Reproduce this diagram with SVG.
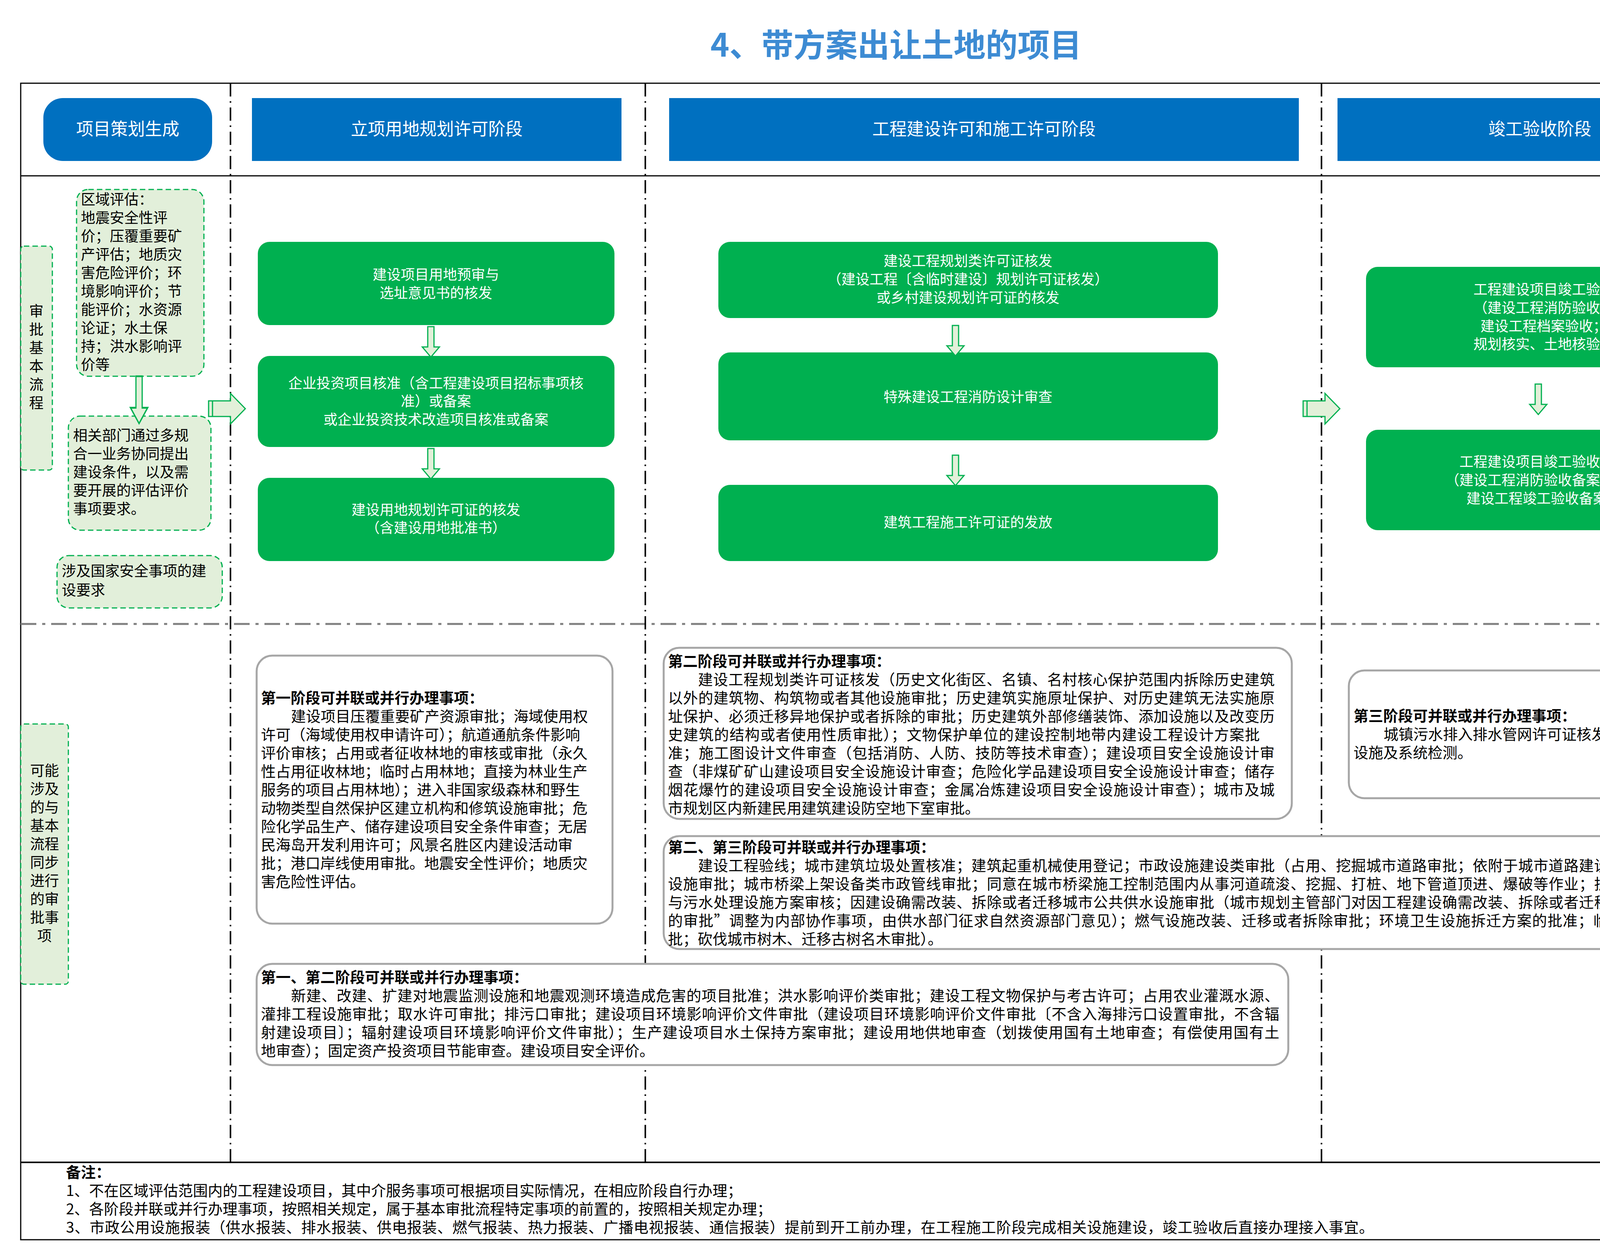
<svg xmlns="http://www.w3.org/2000/svg" width="4577" height="3207" viewBox="0 0 4577 3207">
<style>
text{font-family:"Noto Sans CJK SC","Noto Sans",sans-serif;}
.hd{fill:#0070c0;}
.hdt{fill:#fff;font-size:44px;text-anchor:middle;}
.gb{fill:#00b050;}
.gt{fill:#fff;font-size:36px;text-anchor:middle;}
.lg{fill:#e2efda;stroke:#00b050;stroke-width:3;stroke-dasharray:14 8;}
.lt{fill:#000;font-size:37px;}
.wb{fill:#fff;stroke:#a6a6a6;stroke-width:5;}
.pt{fill:#000;font-size:38px;}
.b{font-weight:bold;}
.vd{stroke:#000;stroke-width:4;stroke-dasharray:34 12 4 12;fill:none;}
.arr{fill:#e2f0d9;stroke:#00b050;stroke-width:3;}
</style>
<defs>
<path id="da" d="M-8,0 h16 v52 h14 l-22,26 l-22,-26 h14 z"/>
<path id="ra" d="M0,-20 h56 v-19 l38,39 l-38,39 v-19 h-56 z M10,-20 v40"/>
</defs>
<rect width="4577" height="3207" fill="#fff"/>
<text x="2294" y="145" font-size="82" font-weight="bold" fill="#3d8bd3" text-anchor="middle">4、带方案出让土地的项目</text>

<g id="frame">
<rect x="53" y="213" width="4469" height="2960" fill="none" stroke="#000" stroke-width="3"/>
<line x1="53" y1="450" x2="4522" y2="450" stroke="#000" stroke-width="3"/>
<line x1="53" y1="2975" x2="4522" y2="2975" stroke="#000" stroke-width="4"/>
<line x1="53" y1="1597" x2="4522" y2="1597" stroke="#7f7f7f" stroke-width="5" stroke-dasharray="40 15 8 15"/>
<line class="vd" x1="590" y1="213" x2="590" y2="2975"/>
<line class="vd" x1="1652" y1="213" x2="1652" y2="2975"/>
<line class="vd" x1="3383" y1="213" x2="3383" y2="2975"/>
</g>

<g id="h1"><rect class="hd" x="111" y="251" width="432" height="161" rx="50"/><text class="hdt" x="327" y="346">项目策划生成</text></g>
<g id="h2"><rect class="hd" x="645" y="251" width="946" height="161"/><text class="hdt" x="1118" y="346">立项用地规划许可阶段</text></g>
<g id="h3"><rect class="hd" x="1713" y="251" width="1612" height="161"/><text class="hdt" x="2519" y="346">工程建设许可和施工许可阶段</text></g>
<g id="h4"><rect class="hd" x="3424" y="251" width="1036" height="161"/><text class="hdt" x="3942" y="346">竣工验收阶段</text></g>

<g id="lab1"><rect class="lg" x="53" y="630" width="81" height="573" rx="8"/>
<text class="lt" x="93" text-anchor="middle"><tspan x="93" y="810">审</tspan><tspan x="93" y="857">批</tspan><tspan x="93" y="904">基</tspan><tspan x="93" y="951">本</tspan><tspan x="93" y="998">流</tspan><tspan x="93" y="1045">程</tspan></text></g>
<g id="lab2"><rect class="lg" x="53" y="1853" width="122" height="666" rx="8"/>
<text class="lt" text-anchor="middle"><tspan x="114" y="1986">可能</tspan><tspan x="114" y="2033">涉及</tspan><tspan x="114" y="2080">的与</tspan><tspan x="114" y="2127">基本</tspan><tspan x="114" y="2174">流程</tspan><tspan x="114" y="2221">同步</tspan><tspan x="114" y="2268">进行</tspan><tspan x="114" y="2315">的审</tspan><tspan x="114" y="2362">批事</tspan><tspan x="114" y="2409">项</tspan></text></g>

<g id="n-qy"><rect class="lg" x="196" y="485" width="326" height="478" rx="30"/>
<text class="lt"><tspan x="207" y="524">区域评估：</tspan><tspan x="207" y="571">地震安全性评</tspan><tspan x="207" y="618">价；压覆重要矿</tspan><tspan x="207" y="665">产评估；地质灾</tspan><tspan x="207" y="712">害危险评价；环</tspan><tspan x="207" y="759">境影响评价；节</tspan><tspan x="207" y="806">能评价；水资源</tspan><tspan x="207" y="853">论证；水土保</tspan><tspan x="207" y="900">持；洪水影响评</tspan><tspan x="207" y="947">价等</tspan></text></g>
<g id="n-xg"><rect class="lg" x="175" y="1065" width="365" height="292" rx="30"/>
<text class="lt"><tspan x="187" y="1128">相关部门通过多规</tspan><tspan x="187" y="1175">合一业务协同提出</tspan><tspan x="187" y="1222">建设条件，以及需</tspan><tspan x="187" y="1269">要开展的评估评价</tspan><tspan x="187" y="1316">事项要求。</tspan></text></g>
<g id="n-aq"><rect class="lg" x="146" y="1422" width="423" height="134" rx="30"/>
<text class="lt"><tspan x="158" y="1475">涉及国家安全事项的建</tspan><tspan x="158" y="1524">设要求</tspan></text></g>

<g id="s1a"><rect class="gb" x="660" y="619" width="913" height="213" rx="30"/><text class="gt"><tspan x="1116" y="716">建设项目用地预审与</tspan><tspan x="1116" y="763">选址意见书的核发</tspan></text></g>
<g id="s1b"><rect class="gb" x="660" y="911" width="913" height="233" rx="30"/><text class="gt"><tspan x="1116" y="994">企业投资项目核准（含工程建设项目招标事项核</tspan><tspan x="1116" y="1040">准）或备案</tspan><tspan x="1116" y="1087">或企业投资技术改造项目核准或备案</tspan></text></g>
<g id="s1c"><rect class="gb" x="660" y="1223" width="913" height="213" rx="30"/><text class="gt"><tspan x="1116" y="1318">建设用地规划许可证的核发</tspan><tspan x="1116" y="1364">（含建设用地批准书）</tspan></text></g>

<g id="s2a"><rect class="gb" x="1839" y="619" width="1279" height="195" rx="30"/><text class="gt"><tspan x="2478" y="681">建设工程规划类许可证核发</tspan><tspan x="2478" y="728">（建设工程〔含临时建设〕规划许可证核发）</tspan><tspan x="2478" y="775">或乡村建设规划许可证的核发</tspan></text></g>
<g id="s2b"><rect class="gb" x="1839" y="902" width="1279" height="225" rx="30"/><text class="gt" x="2478" y="1029">特殊建设工程消防设计审查</text></g>
<g id="s2c"><rect class="gb" x="1839" y="1241" width="1279" height="195" rx="30"/><text class="gt" x="2478" y="1350">建筑工程施工许可证的发放</text></g>

<g id="s3a"><rect class="gb" x="3497" y="683" width="911" height="257" rx="30"/><text class="gt"><tspan x="3952" y="754">工程建设项目竣工验收</tspan><tspan x="3952" y="801">（建设工程消防验收；</tspan><tspan x="3952" y="848">建设工程档案验收；</tspan><tspan x="3952" y="894">规划核实、土地核验）</tspan></text></g>
<g id="s3b"><rect class="gb" x="3497" y="1100" width="911" height="257" rx="30"/><text class="gt"><tspan x="3952" y="1195">工程建设项目竣工验收备案</tspan><tspan x="3952" y="1242">（建设工程消防验收备案抽查；</tspan><tspan x="3952" y="1289">建设工程竣工验收备案）</tspan></text></g>

<g id="p1"><rect class="wb" x="657" y="1678" width="911" height="686" rx="40"/>
<text class="pt"><tspan x="668" y="1800" class="b">第一阶段可并联或并行办理事项：</tspan><tspan x="745" y="1847">建设项目压覆重要矿产资源审批；海域使用权</tspan><tspan x="668" y="1894">许可（海域使用权申请许可）；航道通航条件影响</tspan><tspan x="668" y="1941">评价审核；占用或者征收林地的审核或审批（永久</tspan><tspan x="668" y="1988">性占用征收林地；临时占用林地；直接为林业生产</tspan><tspan x="668" y="2035">服务的项目占用林地）；进入非国家级森林和野生</tspan><tspan x="668" y="2082">动物类型自然保护区建立机构和修筑设施审批；危</tspan><tspan x="668" y="2129">险化学品生产、储存建设项目安全条件审查；无居</tspan><tspan x="668" y="2176">民海岛开发利用许可；风景名胜区内建设活动审</tspan><tspan x="668" y="2223">批；港口岸线使用审批。地震安全性评价；地质灾</tspan><tspan x="668" y="2270">害危险性评估。</tspan></text></g>

<g id="p2"><rect class="wb" x="1699" y="1658" width="1608" height="438" rx="40"/>
<text class="pt b" x="1710" y="1706">第二阶段可并联或并行办理事项：</text>
<text class="pt" x="1787" y="1753" textLength="1476" lengthAdjust="spacing">建设工程规划类许可证核发（历史文化街区、名镇、名村核心保护范围内拆除历史建筑</text>
<text class="pt" x="1710" y="1800" textLength="1553" lengthAdjust="spacing">以外的建筑物、构筑物或者其他设施审批；历史建筑实施原址保护、对历史建筑无法实施原</text>
<text class="pt" x="1710" y="1847" textLength="1553" lengthAdjust="spacing">址保护、必须迁移异地保护或者拆除的审批；历史建筑外部修缮装饰、添加设施以及改变历</text>
<text class="pt" x="1710" y="1894" textLength="1515" lengthAdjust="spacing">史建筑的结构或者使用性质审批）；文物保护单位的建设控制地带内建设工程设计方案批</text>
<text class="pt" x="1710" y="1941" textLength="1553" lengthAdjust="spacing">准；施工图设计文件审查（包括消防、人防、技防等技术审查）；建设项目安全设施设计审</text>
<text class="pt" x="1710" y="1988" textLength="1553" lengthAdjust="spacing">查（非煤矿矿山建设项目安全设施设计审查；危险化学品建设项目安全设施设计审查；储存</text>
<text class="pt" x="1710" y="2035" textLength="1553" lengthAdjust="spacing">烟花爆竹的建设项目安全设施设计审查；金属冶炼建设项目安全设施设计审查）；城市及城</text>
<text class="pt" x="1710" y="2082">市规划区内新建民用建筑建设防空地下室审批。</text></g>

<g id="p3"><rect class="wb" x="3453" y="1716" width="990" height="327" rx="40"/>
<text class="pt"><tspan x="3465" y="1846" class="b">第三阶段可并联或并行办理事项：</tspan><tspan x="3542" y="1893">城镇污水排入排水管网许可证核发；建设工程消防</tspan><tspan x="3465" y="1940">设施及系统检测。</tspan></text></g>

<g id="p23"><rect class="wb" x="1699" y="2140" width="2744" height="289" rx="40"/>
<text class="pt b" x="1710" y="2182">第二、第三阶段可并联或并行办理事项：</text>
<text class="pt" x="1787" y="2229" textLength="2643" lengthAdjust="spacing">建设工程验线；城市建筑垃圾处置核准；建筑起重机械使用登记；市政设施建设类审批（占用、挖掘城市道路审批；依附于城市道路建设各种管线、杆线等</text>
<text class="pt" x="1710" y="2276" textLength="2720" lengthAdjust="spacing">设施审批；城市桥梁上架设备类市政管线审批；同意在城市桥梁施工控制范围内从事河道疏浚、挖掘、打桩、地下管道顶进、爆破等作业；拆除、移动城镇排水</text>
<text class="pt" x="1710" y="2323" textLength="2720" lengthAdjust="spacing">与污水处理设施方案审核；因建设确需改装、拆除或者迁移城市公共供水设施审批（城市规划主管部门对因工程建设确需改装、拆除或者迁移城市公共供水设施</text>
<text class="pt" x="1710" y="2370" textLength="2720" lengthAdjust="spacing">的审批”调整为内部协作事项，由供水部门征求自然资源部门意见）；燃气设施改装、迁移或者拆除审批；环境卫生设施拆迁方案的批准；临时占用城市绿地审</text>
<text class="pt" x="1710" y="2417">批；砍伐城市树木、迁移古树名木审批）。</text></g>

<g id="p12"><rect class="wb" x="657" y="2467" width="2641" height="259" rx="40"/>
<text class="pt b" x="668" y="2515">第一、第二阶段可并联或并行办理事项：</text>
<text class="pt" x="745" y="2562" textLength="2530" lengthAdjust="spacing">新建、改建、扩建对地震监测设施和地震观测环境造成危害的项目批准；洪水影响评价类审批；建设工程文物保护与考古许可；占用农业灌溉水源、</text>
<text class="pt" x="668" y="2609" textLength="2607" lengthAdjust="spacing">灌排工程设施审批；取水许可审批；排污口审批；建设项目环境影响评价文件审批（建设项目环境影响评价文件审批〔不含入海排污口设置审批，不含辐</text>
<text class="pt" x="668" y="2656" textLength="2607" lengthAdjust="spacing">射建设项目〕；辐射建设项目环境影响评价文件审批）；生产建设项目水土保持方案审批；建设用地供地审查（划拨使用国有土地审查；有偿使用国有土</text>
<text class="pt" x="668" y="2703">地审查）；固定资产投资项目节能审查。建设项目安全评价。</text></g>

<g id="connectors">
<use href="#da" class="arr" transform="translate(356,963) scale(1,1.55)"/>
<use href="#da" class="arr" transform="translate(1103,836)"/>
<use href="#da" class="arr" transform="translate(1103,1148)"/>
<use href="#da" class="arr" transform="translate(2446,833)"/>
<use href="#da" class="arr" transform="translate(2446,1165)"/>
<use href="#da" class="arr" transform="translate(3938,983)"/>
<use href="#ra" class="arr" transform="translate(534,1046)"/>
<use href="#ra" class="arr" transform="translate(3336,1046)"/>
</g>

<g id="notes">
<text class="pt b" x="169" y="3014" font-size="37">备注：</text>
<text class="pt" x="169" y="3061" font-size="37">1、不在区域评估范围内的工程建设项目，其中介服务事项可根据项目实际情况，在相应阶段自行办理；</text>
<text class="pt" x="169" y="3108" font-size="37">2、各阶段并联或并行办理事项，按照相关规定，属于基本审批流程特定事项的前置的，按照相关规定办理；</text>
<text class="pt" x="169" y="3155" font-size="37" textLength="3348" lengthAdjust="spacing">3、市政公用设施报装（供水报装、排水报装、供电报装、燃气报装、热力报装、广播电视报装、通信报装）提前到开工前办理，在工程施工阶段完成相关设施建设，竣工验收后直接办理接入事宜。</text>
</g>
</svg>
